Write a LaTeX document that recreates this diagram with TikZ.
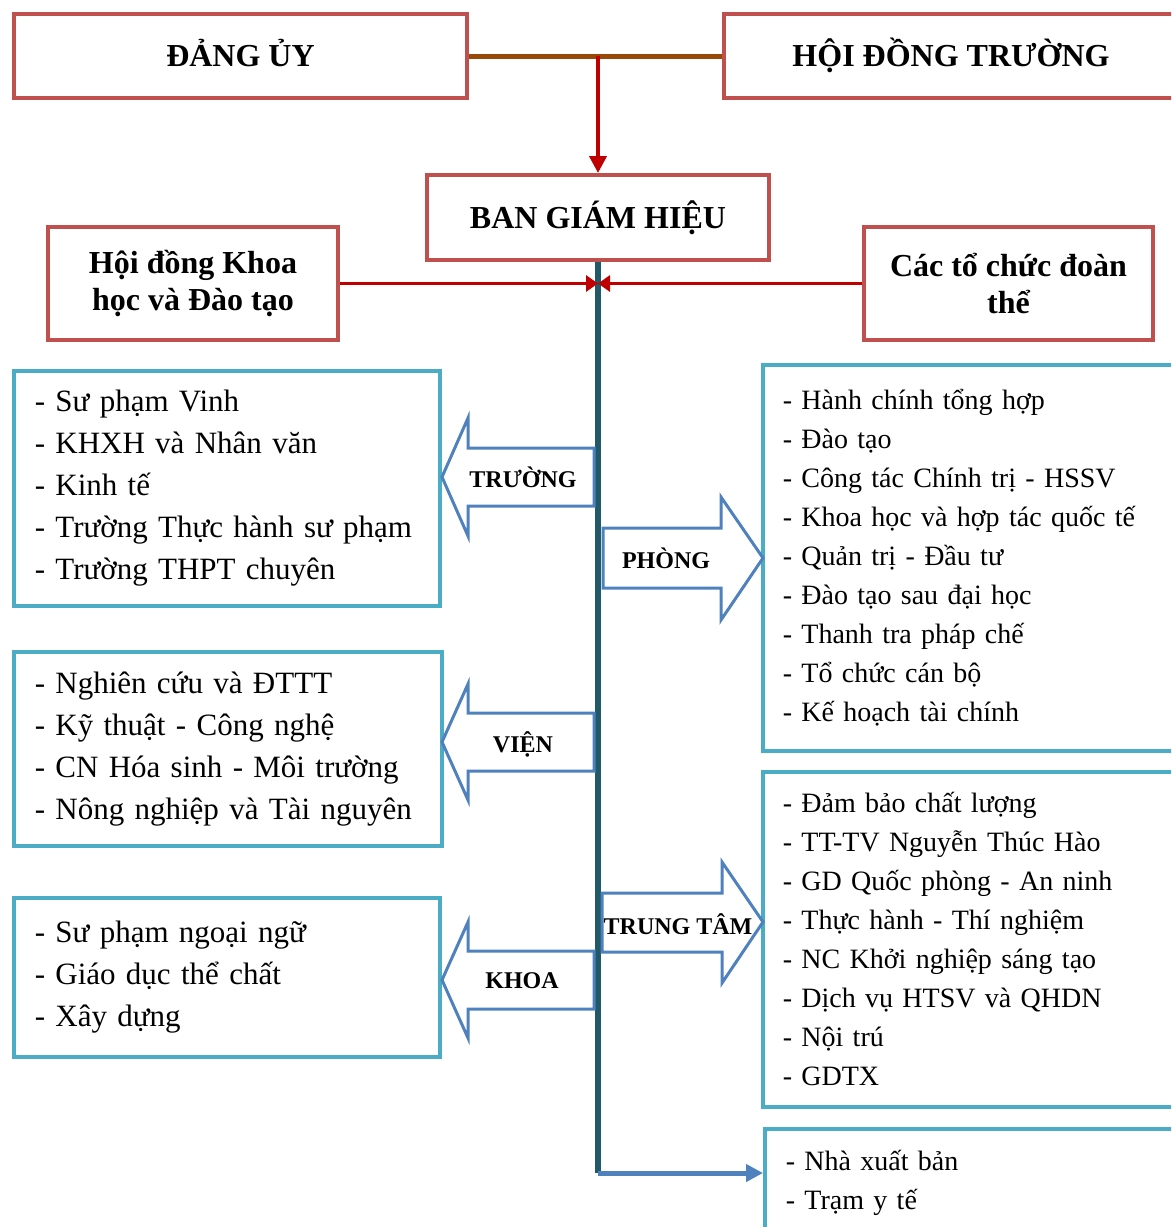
\documentclass[tikz,border=0pt]{standalone}
\usepackage{fontspec}
\setmainfont{Liberation Serif}
\usetikzlibrary{arrows.meta,positioning}
\definecolor{boxred}{HTML}{C0504D}
\definecolor{listblue}{HTML}{4BACC6}
\definecolor{arrowblue}{HTML}{4F81BD}
\definecolor{trunkteal}{HTML}{215968}
\definecolor{redline}{HTML}{C00000}
\definecolor{brownline}{HTML}{984807}
\tikzset{
  headbox/.style={draw=boxred,line width=4pt,fill=white,align=center,inner sep=0pt,anchor=north west,font=\bfseries\fontsize{32}{37}\selectfont},
  oneline/.style={headbox,text height=25pt,text depth=4pt},
  unitbox/.style={draw=listblue,line width=3.5pt,fill=white,align=left,inner xsep=21pt,inner ysep=0pt,anchor=north west},
  leftlist/.style={unitbox,font=\fontsize{31}{42}\selectfont},
  rightlist/.style={unitbox,inner xsep=20pt,font=\fontsize{28}{39}\selectfont},
  blockarrow/.style={draw=arrowblue,line width=3pt,fill=white,line join=miter},
  blocklabel/.style={font=\bfseries\fontsize{24}{28}\selectfont,inner sep=0pt},
  link/.style={draw=brownline,line width=5pt},
  down/.style={-{Triangle[length=17pt,width=17pt]},draw=redline,line width=4pt},
  side/.style={-{Triangle[length=12pt,width=16pt]},draw=redline,line width=3pt},
  trunk/.style={draw=trunkteal,line width=5.5pt},
  branch/.style={-{Triangle[length=17pt,width=17pt]},draw=arrowblue,line width=5pt}
}

\begin{document}
\begin{tikzpicture}[x=1pt,y=-1pt]
\clip (0,0) rectangle (1171,1227);
% leadership
\node[oneline,minimum width=453pt,minimum height=84pt] (danguy) at (12,12) {ĐẢNG ỦY};
\node[oneline,minimum width=454pt,minimum height=84pt] (hdt) at (722,12) {HỘI ĐỒNG TRƯỜNG};
\node[oneline,minimum width=342pt,minimum height=85pt] (bgh) at (425,173) {BAN GIÁM HIỆU};
\node[headbox,minimum width=290pt,minimum height=113pt] (hdkh) at (46,225) {Hội đồng Khoa\\học và Đào tạo};
\node[headbox,minimum width=289pt,minimum height=113pt] (doanthe) at (862,225) {Các tổ chức đoàn\\thể};

% units on the left
\node[leftlist,minimum width=426pt,minimum height=235pt,text width=384pt] (truongbox) at (12,369)
  {- Sư phạm Vinh\\- KHXH và Nhân văn\\- Kinh tế\\- Trường Thực hành sư phạm\\- Trường THPT chuyên};
\node[leftlist,minimum width=428pt,minimum height=194pt,text width=386pt] (vienbox) at (12,650)
  {- Nghiên cứu và ĐTTT\\- Kỹ thuật - Công nghệ\\- CN Hóa sinh - Môi trường\\- Nông nghiệp và Tài nguyên};
\node[leftlist,minimum width=426pt,minimum height=159pt,text width=384pt] (khoabox) at (12,896)
  {- Sư phạm ngoại ngữ\\- Giáo dục thể chất\\- Xây dựng};

% units on the right
\node[rightlist,minimum width=429pt,minimum height=386pt,text width=389pt] (phongbox) at (761,363)
  {- Hành chính tổng hợp\\- Đào tạo\\- Công tác Chính trị - HSSV\\- Khoa học và hợp tác quốc tế\\- Quản trị - Đầu tư\\- Đào tạo sau đại học\\- Thanh tra pháp chế\\- Tổ chức cán bộ\\- Kế hoạch tài chính};
\node[rightlist,minimum width=429pt,minimum height=335pt,text width=389pt] (ttambox) at (761,770)
  {- Đảm bảo chất lượng\\- TT-TV Nguyễn Thúc Hào\\- GD Quốc phòng - An ninh\\- Thực hành - Thí nghiệm\\- NC Khởi nghiệp sáng tạo\\- Dịch vụ HTSV và QHDN\\- Nội trú\\- GDTX};
\node[rightlist,inner xsep=21pt,minimum width=427pt,minimum height=109pt,text width=385pt] (khacbox) at (763,1127)
  {- Nhà xuất bản\\- Trạm y tế};

% connectors
\coordinate (join) at (danguy.east -| bgh.north);
\coordinate (hub) at (bgh.south |- hdkh.east);
\coordinate (turn) at (bgh.south |- 0,1173);
\draw[link] (danguy.east) -- (hdt.west);
\draw[down] (join) -- (bgh.north);
\draw[trunk] (bgh.south) -- (turn);
\draw[branch] (turn) -- (turn -| khacbox.west);
\draw[side] (hdkh.east) -- (hub);
\draw[side] (doanthe.west) -- (hub);

% block arrows
\draw[blockarrow] (594,448) -- (468,448) -- (468,418) -- (442,477) -- (468,536) -- (468,506) -- (594,506) -- cycle;
\draw[blockarrow] (594,713) -- (468,713) -- (468,684) -- (442,742) -- (468,800) -- (468,771) -- (594,771) -- cycle;
\draw[blockarrow] (594,951) -- (468,951) -- (468,922) -- (442,980) -- (468,1038) -- (468,1009) -- (594,1009) -- cycle;
\draw[blockarrow] (603,528) -- (721,528) -- (721,497) -- (763,558) -- (721,620) -- (721,588) -- (603,588) -- cycle;
\draw[blockarrow] (602,893) -- (722,893) -- (722,862) -- (763,922) -- (722,983) -- (722,952) -- (602,952) -- cycle;
\node[blocklabel] (truong) at (523,477) {TRƯỜNG};
\node[blocklabel] (vien) at (523,744) {VIỆN};
\node[blocklabel] (khoa) at (522,981) {KHOA};
\node[blocklabel] (phong) at (666,558) {PHÒNG};
\node[blocklabel] (ttam) at (678,924) {TRUNG TÂM};
\end{tikzpicture}
\end{document}
